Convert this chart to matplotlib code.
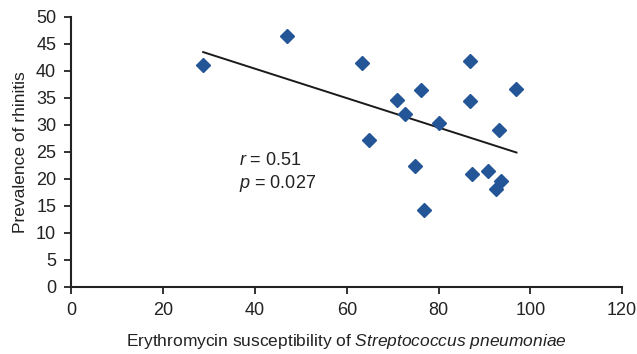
import numpy as np
import matplotlib
matplotlib.use("Agg")
import matplotlib.pyplot as plt

plt.rcParams['font.family'] = ['Liberation Sans', 'DejaVu Sans']
plt.rcParams['mathtext.fontset'] = 'custom'
plt.rcParams['mathtext.rm'] = 'Liberation Sans'
plt.rcParams['mathtext.it'] = 'Liberation Sans:italic'

# erythromycin susceptibility (%) vs prevalence of rhinitis (%)
susceptibility = [28.6, 47.0, 63.3, 64.8, 70.9, 72.6, 76.2, 74.8, 76.8,
                  80.1, 86.8, 86.8, 87.3, 90.7, 93.1, 92.5, 93.6, 96.8]
prevalence     = [41.1, 46.5, 41.5, 27.2, 34.6, 32.0, 36.5, 22.4, 14.3,
                  30.4, 41.9, 34.4, 20.9, 21.5, 29.1, 18.1, 19.6, 36.7]

# trend line end points
fit_x = [28.7, 97.0]
fit_y = [43.5, 24.9]

x_ticks = [0, 20, 40, 60, 80, 100, 120]
y_ticks = list(range(0, 55, 5))

fig = plt.figure(figsize=(6.37, 3.54), dpi=100)
ax = fig.add_axes([0.1122, 0.1893, 0.8643, 0.7627])

ax.plot(fit_x, fit_y, color="#1a1a1a", linewidth=1.4, zorder=2)
ax.plot(susceptibility, prevalence, linestyle="none", marker="D",
        markersize=7.5, color="#245596", zorder=3)

ax.set_xlim(0, 120)
ax.set_ylim(0, 50)
ax.set_xticks(x_ticks)
ax.set_yticks(y_ticks)
ax.tick_params(direction="out", length=5, width=1.3, colors="#222222",
               labelsize=13, pad=6)
for side in ["top", "right"]:
    ax.spines[side].set_visible(False)
for side in ["left", "bottom"]:
    ax.spines[side].set_linewidth(1.5)
    ax.spines[side].set_color("#222222")

ax.text(36.5, 22.6, "$\\it{r}$ = 0.51", fontsize=13, color="#222222")
ax.text(36.5, 18.3, "$\\it{p}$ = 0.027", fontsize=13, color="#222222")

ax.set_xlabel("Erythromycin susceptibility of $\\it{Streptococcus\\ pneumoniae}$",
              fontsize=12.5, color="#222222", labelpad=9)
ax.set_ylabel("Prevalence of rhinitis", fontsize=12.5, color="#222222", labelpad=6)

fig.savefig("out.png", dpi=100)
